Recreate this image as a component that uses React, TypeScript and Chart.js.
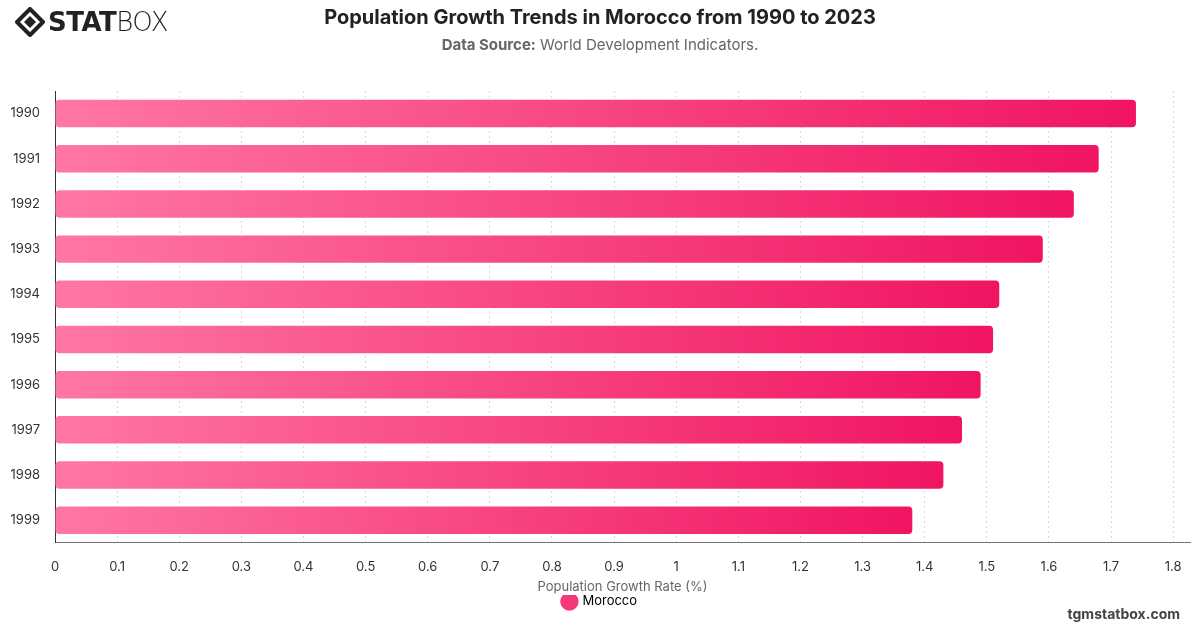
import React, { useEffect, useRef } from "react";
import { Chart, registerables } from "chart.js";

Chart.register(...registerables);

const years = ["1990", "1991", "1992", "1993", "1994", "1995", "1996", "1997", "1998", "1999"];
const growthRate = [1.74, 1.68, 1.64, 1.59, 1.52, 1.51, 1.49, 1.46, 1.43, 1.38];
const seriesName = "Morocco";
const axisTitle = "Population Growth Rate (%)";

const FONT = "Inter, 'Liberation Sans', Arial, sans-serif";

function Logo() {
  return (
    <div style={{ position: "absolute", left: 15, top: 7, display: "flex", alignItems: "center" }}>
      <svg width="30" height="30" viewBox="0 0 30 30" style={{ marginRight: 3 }}>
        <path d="M15 2 L28 15 L15 28 L2 15 Z" fill="none" stroke="#222" strokeWidth="4" strokeLinejoin="round" />
        <path d="M15 9 L21 15 L15 21 L9 15 Z" fill="#222" />
      </svg>
      <span style={{ fontFamily: "'DejaVu Sans', sans-serif", fontWeight: 900, fontSize: 26, color: "#222", letterSpacing: -0.5 }}>
        STAT
      </span>
      <span style={{ fontFamily: "'DejaVu Sans', sans-serif", fontWeight: 200, fontSize: 26, color: "#222", letterSpacing: -0.5 }}>
        BOX
      </span>
    </div>
  );
}

export default function App() {
  const canvasRef = useRef<HTMLCanvasElement | null>(null);

  useEffect(() => {
    const canvas = canvasRef.current;
    if (!canvas) return;
    const dataMax = Math.max(...growthRate);

    const chart = new Chart(canvas, {
      type: "bar",
      data: {
        labels: years,
        datasets: [
          {
            label: seriesName,
            data: growthRate,
            // each bar fades from light pink at zero to deep pink at its tip
            backgroundColor: (ctx: any) => {
              const c = ctx.chart;
              const xs = c.scales && c.scales.x;
              if (!xs || ctx.type !== "data") return "#f5387a";
              const v = ctx.raw as number;
              const x0 = xs.getPixelForValue(0);
              const x1 = xs.getPixelForValue(v);
              if (!isFinite(x0) || !isFinite(x1) || x1 <= x0) return "#f5387a";
              const g = c.ctx.createLinearGradient(x0, 0, x1, 0);
              g.addColorStop(0, "#ff77a4");
              g.addColorStop(1, "#f01462");
              return g;
            },
            borderWidth: 0,
            borderRadius: 4,
            borderSkipped: false,
            categoryPercentage: 0.8,
            barPercentage: 0.76,
          },
        ],
      },
      options: {
        indexAxis: "y",
        responsive: false,
        animation: false,
        maintainAspectRatio: false,
        layout: { padding: { left: 10, right: 10, top: 91, bottom: 10 } },
        scales: {
          x: {
            type: "linear",
            min: 0,
            max: dataMax * 1.05,
            ticks: {
              stepSize: 0.1,
              includeBounds: false,
              padding: 16,
              color: "#333",
              font: { family: FONT, size: 13 },
              callback: (v: any) => String(Math.round(Number(v) * 10) / 10),
            },
            grid: { color: "#d9d9d9", drawTicks: false, tickLength: 0 },
            border: { display: true, color: "#777", width: 1, dash: [2, 3] },
            title: {
              display: true,
              text: axisTitle,
              color: "#666",
              font: { family: FONT, size: 13 },
              padding: { top: -11, bottom: 0 },
            },
          },
          y: {
            afterFit: (s: any) => {
              s.width = 45;
            },
            ticks: {
              color: "#333",
              font: { family: FONT, size: 13 },
              padding: 15,
            },
            grid: { display: false, drawTicks: false },
            border: { display: true, color: "#333", width: 1 },
          },
        },
        plugins: {
          legend: {
            position: "bottom",
            labels: {
              usePointStyle: true,
              pointStyle: "circle",
              boxWidth: 13,
              boxHeight: 13,
              padding: 0,
              color: "#333",
              font: { family: FONT, size: 13 },
              generateLabels: () => [
                {
                  text: seriesName,
                  fillStyle: "#f5387a",
                  strokeStyle: "#f5387a",
                  lineWidth: 0,
                  pointStyle: "circle",
                  hidden: false,
                  datasetIndex: 0,
                },
              ],
            },
          },
          tooltip: { enabled: false },
        },
      },
    });

    return () => chart.destroy();
  }, []);

  return (
    <div style={{ position: "fixed", left: 0, top: 0, width: 1200, height: 628, background: "#fff", overflow: "hidden" }}>
      <canvas ref={canvasRef} width={1200} height={628} style={{ position: "absolute", left: 0, top: 0, width: 1200, height: 628 }} />
      <Logo />
      <div
        style={{
          position: "absolute",
          top: 5,
          left: 0,
          width: 1200,
          textAlign: "center",
          fontFamily: FONT,
          fontWeight: 700,
          fontSize: 20,
          color: "#222",
        }}
      >
        Population Growth Trends in Morocco from 1990 to 2023
      </div>
      <div
        style={{
          position: "absolute",
          top: 35,
          left: 0,
          width: 1200,
          textAlign: "center",
          fontFamily: FONT,
          fontSize: 15,
          color: "#666",
        }}
      >
        <span style={{ fontWeight: 700 }}>Data Source:</span> World Development Indicators.
      </div>
      <div
        style={{
          position: "absolute",
          right: 20,
          top: 605,
          fontFamily: FONT,
          fontWeight: 700,
          fontSize: 14,
          color: "#444",
        }}
      >
        tgmstatbox.com
      </div>
    </div>
  );
}
